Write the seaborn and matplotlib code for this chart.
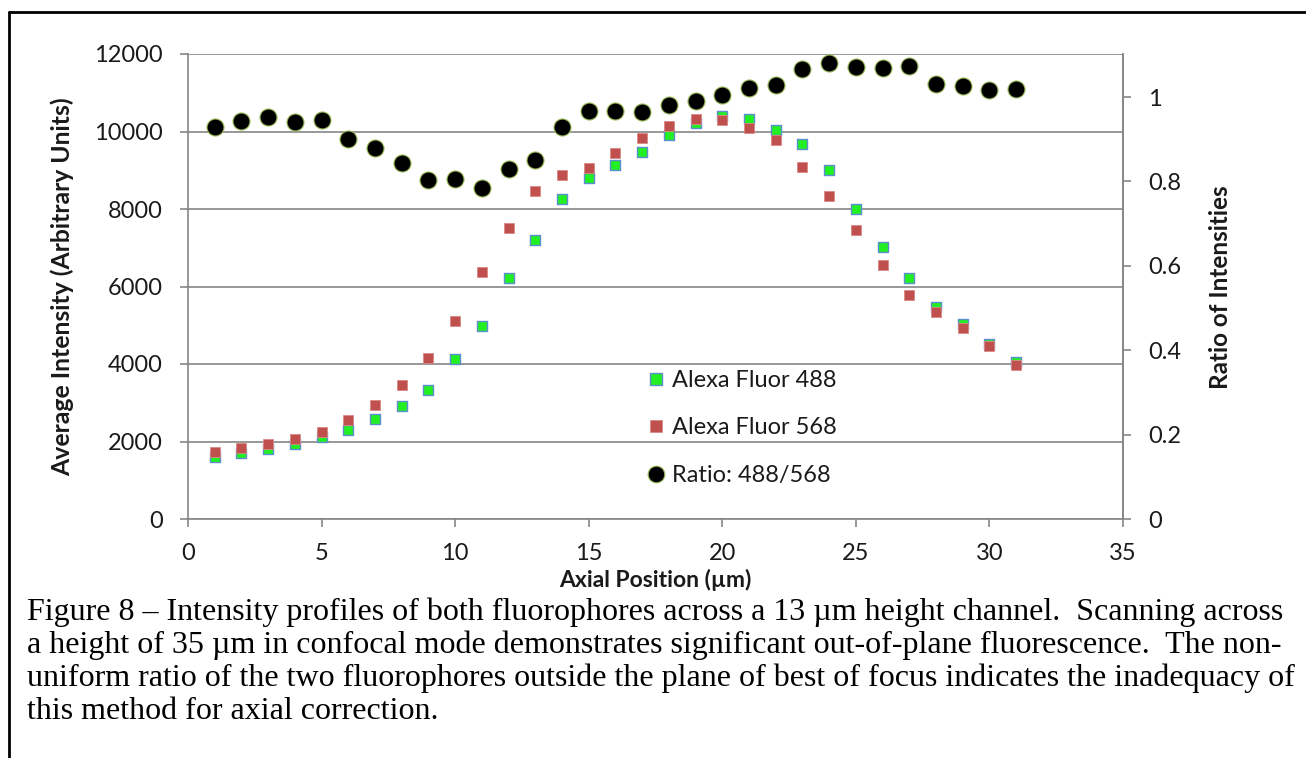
import numpy as np
import pandas as pd
import matplotlib
matplotlib.use("Agg")
import matplotlib.pyplot as plt
from matplotlib.lines import Line2D
import seaborn as sns

# ---- data ----
position = list(range(1, 32))
alexa_488 = [1600, 1695, 1800, 1925, 2125, 2300, 2580, 2925, 3330, 4120,
             4980, 6220, 7200, 8250, 8790, 9130, 9470, 9910, 10210, 10400,
             10330, 10040, 9680, 9015, 7990, 7010, 6230, 5480, 5040, 4520, 4060]
alexa_568 = [1740, 1840, 1930, 2060, 2255, 2555, 2940, 3460, 4150, 5120,
             6370, 7510, 8465, 8880, 9065, 9440, 9825, 10150, 10320, 10300,
             10080, 9780, 9075, 8335, 7460, 6565, 5780, 5335, 4920, 4465, 3975]
ratio = [0.930, 0.944, 0.952, 0.940, 0.945, 0.900, 0.879, 0.844, 0.804, 0.806,
         0.785, 0.829, 0.851, 0.928, 0.968, 0.967, 0.965, 0.981, 0.991, 1.006,
         1.021, 1.028, 1.066, 1.080, 1.072, 1.070, 1.074, 1.030, 1.026, 1.017, 1.019]

x_ticks = [0, 5, 10, 15, 20, 25, 30, 35]
y_ticks = [0, 2000, 4000, 6000, 8000, 10000, 12000]
r_ticks = [0, 0.2, 0.4, 0.6, 0.8, 1.0]
r_tick_labels = ["0", "0.2", "0.4", "0.6", "0.8", "1"]

labels = ["Alexa Fluor 488", "Alexa Fluor 568", "Ratio: 488/568"]
x_label = "Axial Position (µm)"
y_label = "Average Intensity (Arbitrary Units)"
r_label = "Ratio of Intensities"
caption_lines = [
    "Figure 8 \u2013 Intensity profiles of both fluorophores across a 13 \u00b5m height channel.  Scanning across",
    "a height of 35 \u00b5m in confocal mode demonstrates significant out-of-plane fluorescence.  The non-",
    "uniform ratio of the two fluorophores outside the plane of best of focus indicates the inadequacy of",
    "this method for axial correction.",
]

df = pd.DataFrame({"pos": position, "a488": alexa_488, "a568": alexa_568, "ratio": ratio})

sns.set_theme(style="white")
plt.rcParams["font.family"] = ["Lato", "DejaVu Sans"]

W, H = 1306, 758
fig = plt.figure(figsize=(W / 100, H / 100), dpi=100)
ax = fig.add_axes([188 / W, 1 - 519 / H, (1123 - 188) / W, (519 - 54) / H])

grid_c = "#868686"
green_face = "#22F022"
green_edge = "#5B8FD0"
red_c = "#C0504D"

sns.scatterplot(data=df, x="pos", y="a488", marker="s", s=62, color=green_face,
                edgecolor=green_edge, linewidth=1.0, ax=ax, zorder=3, legend=False)
sns.scatterplot(data=df, x="pos", y="a568", marker="s", s=62, color=red_c,
                edgecolor="#D88A88", linewidth=0.6, ax=ax, zorder=4, legend=False)

ax.set_xlim(0, 35)
ax.set_ylim(0, 12000)
ax.set_xticks(x_ticks)
ax.set_yticks(y_ticks)
ax.yaxis.grid(True, color=grid_c, linewidth=1.2)
ax.xaxis.grid(False)
ax.set_axisbelow(True)
ax.spines["top"].set_visible(False)
for s in ["left", "bottom", "right"]:
    ax.spines[s].set_color(grid_c)
    ax.spines[s].set_linewidth(1.2)
ax.tick_params(axis="y", which="major", direction="out", length=6, width=1.2,
               color=grid_c, pad=12, labelsize=17, labelcolor="#1a1a1a", left=True)
ax.tick_params(axis="x", which="major", direction="out", length=6, width=1.2,
               color=grid_c, pad=11, labelsize=17, labelcolor="#1a1a1a", bottom=True)
ax.set_xlabel("")
ax.set_ylabel("")

ax2 = ax.twinx()
sns.scatterplot(data=df, x="pos", y="ratio", marker="o", s=150, color="black",
                edgecolor="#9BBB59", linewidth=0.8, ax=ax2, zorder=5, legend=False)
ax2.set_ylim(0, 1.102)
ax2.set_yticks(r_ticks)
ax2.set_yticklabels(r_tick_labels)
ax2.grid(False)
for s in ["top", "left", "bottom"]:
    ax2.spines[s].set_visible(False)
ax2.spines["right"].set_color(grid_c)
ax2.spines["right"].set_linewidth(1.2)
ax2.tick_params(axis="y", which="major", direction="out", length=6, width=1.2,
                color=grid_c, pad=12, labelsize=17, labelcolor="#1a1a1a", right=True)
ax2.set_ylabel("")

# axis titles
fig.text(62 / W, 1 - 287 / H, y_label, rotation=90, ha="center", va="center",
         fontsize=17.8, fontweight="bold", color="#1a1a1a")
fig.text(1220 / W, 1 - 287 / H, r_label, rotation=90, ha="center", va="center",
         fontsize=17.5, fontweight="bold", color="#1a1a1a")
fig.text(655 / W, 1 - 580 / H, x_label, ha="center", va="center",
         fontsize=16.5, fontweight="bold", color="#1a1a1a")

# legend
handles = [
    Line2D([], [], linestyle="none", marker="s", markersize=8, markerfacecolor=green_face,
           markeredgecolor=green_edge, markeredgewidth=1.0),
    Line2D([], [], linestyle="none", marker="s", markersize=8, markerfacecolor=red_c,
           markeredgecolor="#D88A88", markeredgewidth=0.6),
    Line2D([], [], linestyle="none", marker="o", markersize=12, markerfacecolor="black",
           markeredgecolor="#9BBB59", markeredgewidth=0.8),
]
leg = ax2.legend(handles, labels, loc="upper left",
                 bbox_to_anchor=((647 - 188) / (1123 - 188), (519 - 370) / (519 - 54)),
                 frameon=False, fontsize=17, handlelength=0.8, handletextpad=0.25,
                 labelspacing=1.12, borderaxespad=0, borderpad=0)
for t in leg.get_texts():
    t.set_color("#1a1a1a")

# caption
baselines = [620, 653, 686, 719]
for line, yb in zip(caption_lines, baselines):
    fig.text(27 / W, 1 - yb / H, line, ha="left", va="baseline",
             fontsize=23.0, family=["Liberation Serif", "DejaVu Serif"], color="black")

# border lines (top and left)
fig.add_artist(Line2D([9 / W, 1.0], [1 - 12 / H, 1 - 12 / H], transform=fig.transFigure,
                      color="black", linewidth=2))
fig.add_artist(Line2D([9 / W, 9 / W], [0, 1 - 12 / H], transform=fig.transFigure,
                      color="black", linewidth=2))

fig.savefig("out.png", dpi=100)
